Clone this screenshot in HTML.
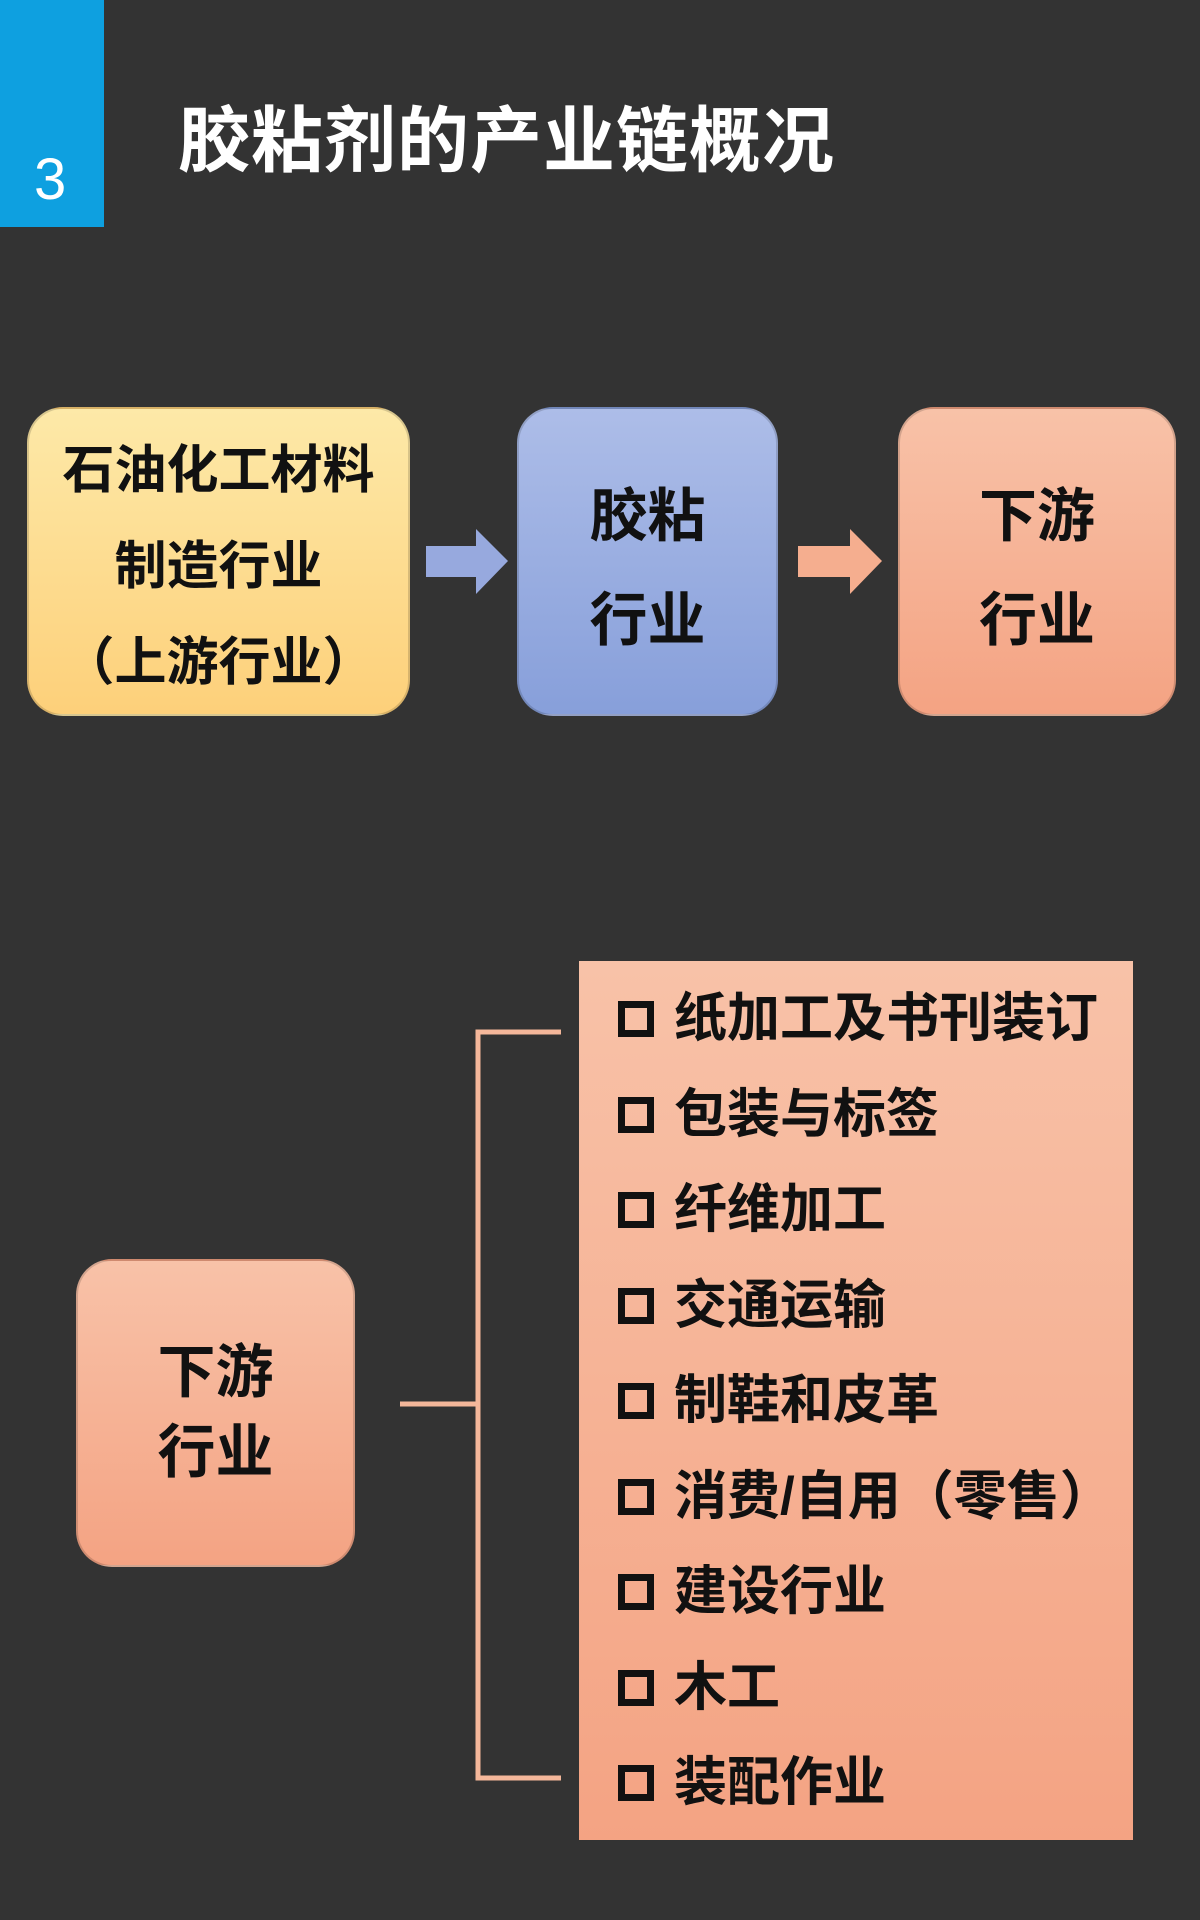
<!DOCTYPE html>
<html><head><meta charset="utf-8"><style>
body{margin:0;width:1200px;height:1920px;background:#333333;position:relative;overflow:hidden;font-family:"Liberation Sans","Noto Sans CJK SC",sans-serif;font-weight:bold;}
.a{position:absolute;}
.box{position:absolute;border-radius:36px;display:flex;align-items:center;justify-content:center;text-align:center;color:#111;border:2px solid rgba(0,0,0,0.15);box-sizing:border-box;}
.item{position:absolute;left:618px;font-size:53px;color:#111;line-height:60px;display:flex;align-items:center;}
.cb{width:36px;height:36px;border:7px solid #111;box-sizing:border-box;margin-right:20px;}
</style></head><body>
<div class="a" style="left:0;top:0;width:104px;height:227px;background:#0ea0e0;"></div>
<div class="a" style="left:34px;top:146px;font-size:58px;color:#fff;font-weight:normal;">3</div>
<div class="a" style="left:178px;top:82px;font-size:72px;color:#fff;letter-spacing:1px;">胶粘剂的产业链概况</div>

<div class="box" style="left:27px;top:407px;width:383px;height:309px;background:linear-gradient(#fde9a8,#fdd07a);font-size:52px;line-height:96px;padding-top:10px;">石油化工材料<br>制造行业<br>（上游行业）</div>
<svg class="a" style="left:426px;top:529px" width="82" height="65"><polygon points="0,17 50,17 50,0 82,32 50,65 50,48 0,48" fill="#97a9de"/></svg>
<div class="box" style="left:517px;top:407px;width:261px;height:309px;background:linear-gradient(#adbde8,#879fda);font-size:58px;line-height:104px;padding-top:14px;">胶粘<br>行业</div>
<svg class="a" style="left:798px;top:529px" width="84" height="65"><polygon points="0,17 52,17 52,0 84,32 52,65 52,48 0,48" fill="#f5ae8f"/></svg>
<div class="box" style="left:898px;top:407px;width:278px;height:309px;background:linear-gradient(#f8c2a8,#f4a383);font-size:58px;line-height:104px;padding-top:14px;">下游<br>行业</div>

<div class="box" style="left:76px;top:1259px;width:279px;height:308px;background:linear-gradient(#f8c2a8,#f4a383);font-size:58px;line-height:80px;">下游<br>行业</div>
<svg class="a" style="left:0;top:0" width="1200" height="1920"><g stroke="#f4b79a" stroke-width="5" fill="none"><line x1="400" y1="1404" x2="478" y2="1404"/><polyline points="561,1032 478,1032 478,1778 561,1778"/></g></svg>
<div class="a" style="left:579px;top:961px;width:554px;height:879px;background:linear-gradient(#f8c2a8,#f4a383);"></div>
<div class="item" style="top:989px"><span class="cb"></span>纸加工及书刊装订</div>
<div class="item" style="top:1085px"><span class="cb"></span>包装与标签</div>
<div class="item" style="top:1180px"><span class="cb"></span>纤维加工</div>
<div class="item" style="top:1276px"><span class="cb"></span>交通运输</div>
<div class="item" style="top:1371px"><span class="cb"></span>制鞋和皮革</div>
<div class="item" style="top:1467px"><span class="cb"></span>消费/自用（零售）</div>
<div class="item" style="top:1562px"><span class="cb"></span>建设行业</div>
<div class="item" style="top:1658px"><span class="cb"></span>木工</div>
<div class="item" style="top:1753px"><span class="cb"></span>装配作业</div>
</body></html>
